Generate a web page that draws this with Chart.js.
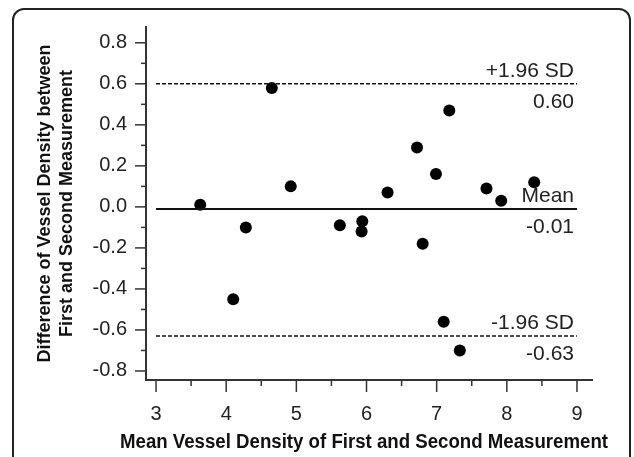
<!DOCTYPE html>
<html>
<head>
<meta charset="utf-8">
<script src="https://cdn.jsdelivr.net/npm/chart.js@4/dist/chart.umd.min.js"></script>
<style>
  html, body { margin: 0; padding: 0; background: #fff; }
  #wrap { position: relative; width: 634px; height: 457px; overflow: hidden; }
  #frame { position: absolute; left: 12px; top: 8px; width: 619px; height: 520px;
           border: 2px solid #222; border-radius: 12px; pointer-events: none; box-sizing: border-box; }
  canvas { position: absolute; left: 0; top: 0; }
</style>
</head>
<body>
<div id="wrap">
  <canvas id="c" width="634" height="457"></canvas>
  <div id="frame"></div>
</div>
<script>
// ---- data ----
const meanValues = [3.63, 4.10, 4.28, 4.65, 4.92, 5.62, 5.93, 5.94, 6.30, 6.72, 6.80, 6.99, 7.10, 7.18, 7.33, 7.71, 7.92, 8.39];
const diffValues = [0.01, -0.45, -0.10, 0.58, 0.10, -0.09, -0.12, -0.07, 0.07, 0.29, -0.18, 0.16, -0.56, 0.47, -0.70, 0.09, 0.03, 0.12];
const meanDiff = -0.01;
const upperLimit = 0.60;
const lowerLimit = -0.63;
const limitLabels = ['+1.96 SD', 'Mean', '-1.96 SD'];
const limitValueLabels = ['0.60', '-0.01', '-0.63'];
const lineRange = [3, 9];
const xTickValues = [3, 4, 5, 6, 7, 8, 9];
const yTickValues = [-0.8, -0.6, -0.4, -0.2, 0.0, 0.2, 0.4, 0.6, 0.8];
const xTitle = 'Mean Vessel Density of First and Second Measurement';
const yTitle = ['Difference of Vessel Density between', 'First and Second Measurement'];

const points = meanValues.map((x, i) => ({ x: x, y: diffValues[i] }));
const hLine = v => lineRange.map(x => ({ x: x, y: v }));
const TEXT = '#222';
const AXIS = '#333';
const FAMILY = '"Liberation Sans", Arial, sans-serif';

const tickPlugin = {
  id: 'ticksAndLabels',
  afterDraw(chart) {
    const ctx = chart.ctx;
    const xs = chart.scales.x, ys = chart.scales.y;
    const ca = chart.chartArea;
    ctx.save();
    ctx.strokeStyle = AXIS;
    ctx.lineWidth = 1.5;
    yTickValues.forEach((v, i) => {
      const p = ys.getPixelForValue(v);
      ctx.beginPath(); ctx.moveTo(ca.left - 11, p); ctx.lineTo(ca.left, p); ctx.stroke();
      if (i < yTickValues.length - 1) {
        const m = ys.getPixelForValue((v + yTickValues[i + 1]) / 2);
        ctx.beginPath(); ctx.moveTo(ca.left - 5, m); ctx.lineTo(ca.left, m); ctx.stroke();
      }
    });
    xTickValues.forEach((v, i) => {
      const p = xs.getPixelForValue(v);
      ctx.beginPath(); ctx.moveTo(p, ca.bottom); ctx.lineTo(p, ca.bottom + 12); ctx.stroke();
      if (i < xTickValues.length - 1) {
        const m = xs.getPixelForValue((v + xTickValues[i + 1]) / 2);
        ctx.beginPath(); ctx.moveTo(m, ca.bottom); ctx.lineTo(m, ca.bottom + 6); ctx.stroke();
      }
    });
    ctx.fillStyle = TEXT;
    ctx.font = '21px ' + FAMILY;
    ctx.textAlign = 'right';
    ctx.textBaseline = 'middle';
    const xr = xs.getPixelForValue(lineRange[1]) - 3;
    [upperLimit, meanDiff, lowerLimit].forEach((v, i) => {
      const p = ys.getPixelForValue(v);
      ctx.fillText(limitLabels[i], xr, p - 13);
      ctx.fillText(limitValueLabels[i], xr, p + 18);
    });
    // x-axis title (drawn here so it may extend past the plot width like the reference)
    ctx.fillStyle = '#111';
    ctx.font = 'bold 20px ' + FAMILY;
    ctx.textAlign = 'center';
    ctx.fillText(xTitle, (ca.left + ca.right) / 2 - 5, ca.bottom + 62, 488);
    ctx.restore();
  }
};

new Chart(document.getElementById('c'), {
  type: 'scatter',
  data: {
    datasets: [
      { data: hLine(upperLimit), showLine: true, borderColor: '#111', borderWidth: 1.5, borderDash: [4, 2], pointRadius: 0 },
      { data: hLine(meanDiff), showLine: true, borderColor: '#111', borderWidth: 2, pointRadius: 0 },
      { data: hLine(lowerLimit), showLine: true, borderColor: '#111', borderWidth: 1.5, borderDash: [4, 2], pointRadius: 0 },
      { data: points, pointRadius: 6, pointBackgroundColor: '#000', pointBorderColor: '#000', borderWidth: 0 }
    ]
  },
  options: {
    responsive: false,
    animation: false,
    layout: { padding: { left: 0, top: 27, right: 42, bottom: 0 } },
    plugins: { legend: { display: false }, tooltip: { enabled: false } },
    scales: {
      x: {
        type: 'linear', min: 2.857, max: 9.214,
        afterBuildTicks: s => { s.ticks = xTickValues.map(v => ({ value: v })); },
        afterFit: s => { s.height = 77; },
        grid: { display: false },
        border: { display: true, color: AXIS, width: 2 },
        ticks: { color: TEXT, padding: 14, font: { family: FAMILY, size: 20 }, callback: v => String(v) },
        title: { display: false }
      },
      y: {
        type: 'linear', min: -0.844, max: 0.877,
        afterBuildTicks: s => { s.ticks = yTickValues.map(v => ({ value: v })); },
        afterFit: s => { s.width = 146; },
        grid: { display: false },
        border: { display: true, color: AXIS, width: 2 },
        ticks: { color: TEXT, padding: 11, font: { family: FAMILY, size: 20 }, callback: v => v.toFixed(1) },
        title: { display: true, text: yTitle, color: '#111', padding: { top: 34, bottom: 0 },
                 font: { family: FAMILY, size: 18, weight: 'bold', lineHeight: 1.22 } }
      }
    }
  },
  plugins: [tickPlugin]
});
</script>
</body>
</html>
